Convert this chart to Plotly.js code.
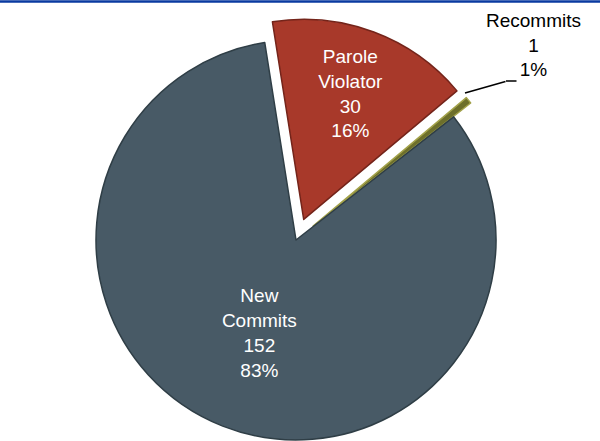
<!DOCTYPE html>
<html>
<head>
<meta charset="utf-8">
<script src="https://cdn.plot.ly/plotly-3.0.1.min.js"></script>
<style>
html,body{margin:0;padding:0;overflow:hidden;background:#fff;}
#chart{width:600px;height:480px;}
</style>
</head>
<body>
<div id="chart"></div>
<script>
// Data
var labels = ['Parole Violator', 'Recommits', 'New Commits'];
var values = [30, 1, 152];
var displayNames = ['Parole<br>Violator', 'Recommits', 'New<br>Commits'];

var colors = ['#a8392a', '#6d6f2b', '#485a66'];
var lineColors = ['#74241a', '#a3a24a', '#2f3e46'];

var FONT = '"Liberation Sans", Arial, sans-serif';
var W = 600, H = 480;

var trace = {
  type: 'pie',
  labels: labels,
  values: values,
  text: displayNames,
  sort: false,
  direction: 'clockwise',
  rotation: -9,
  pull: [0.11, 0.11, 0],
  marker: {colors: colors, line: {color: lineColors, width: 1.5}},
  texttemplate: ['%{text}<br>%{value}<br>%{percent:.0%}', '', '%{text}<br>%{value}<br>%{percent:.0%}'],
  textposition: ['inside', 'none', 'inside'],
  insidetextorientation: 'horizontal',
  textfont: {family: FONT, size: 19, color: '#ffffff'},
  hoverinfo: 'label+value+percent',
  showlegend: false,
  domain: {x: [74/W, 518/W], y: [1 - 462/H, 1 - 18/H]}
};

// Recommits label (outside, with leader line)
var rIdx = 1;
var total = values.reduce(function(a,b){return a+b;},0);
var recPct = Math.round(values[rIdx] / total * 100);

function px(x){return x / W;}
function py(y){return 1 - y / H;}

var layout = {
  width: W,
  height: H,
  margin: {l: 0, r: 0, t: 0, b: 0},
  paper_bgcolor: '#ffffff',
  plot_bgcolor: '#ffffff',
  font: {family: FONT},
  shapes: [
    {type: 'line', xref: 'paper', yref: 'paper', x0: 0, x1: 1, y0: py(1.5), y1: py(1.5),
     line: {color: '#0a3aa0', width: 2.5}}
  ],
  annotations: [
    {
      xref: 'paper', yref: 'paper', x: px(533), y: py(45),
      xanchor: 'center', yanchor: 'middle',
      text: displayNames[rIdx] + '<br>' + values[rIdx] + '<br>' + recPct + '%',
      showarrow: false,
      font: {family: FONT, size: 19, color: '#000000'},
      align: 'center'
    },
    {
      xref: 'paper', yref: 'paper', x: px(465), y: py(93),
      ax: 42, ay: -12, text: ' ', font: {size: 1},
      xanchor: 'center', yanchor: 'middle',
      showarrow: true, arrowhead: 0, arrowwidth: 1.5, arrowcolor: '#000000', standoff: 0
    },
    {
      xref: 'paper', yref: 'paper', x: px(506), y: py(81),
      ax: 12, ay: 0, text: ' ', font: {size: 1},
      xanchor: 'center', yanchor: 'middle',
      showarrow: true, arrowhead: 0, arrowwidth: 1.5, arrowcolor: '#000000', standoff: 0
    }
  ]
};

Plotly.newPlot('chart', [trace], layout, {displayModeBar: false, staticPlot: true});
</script>
</body>
</html>
